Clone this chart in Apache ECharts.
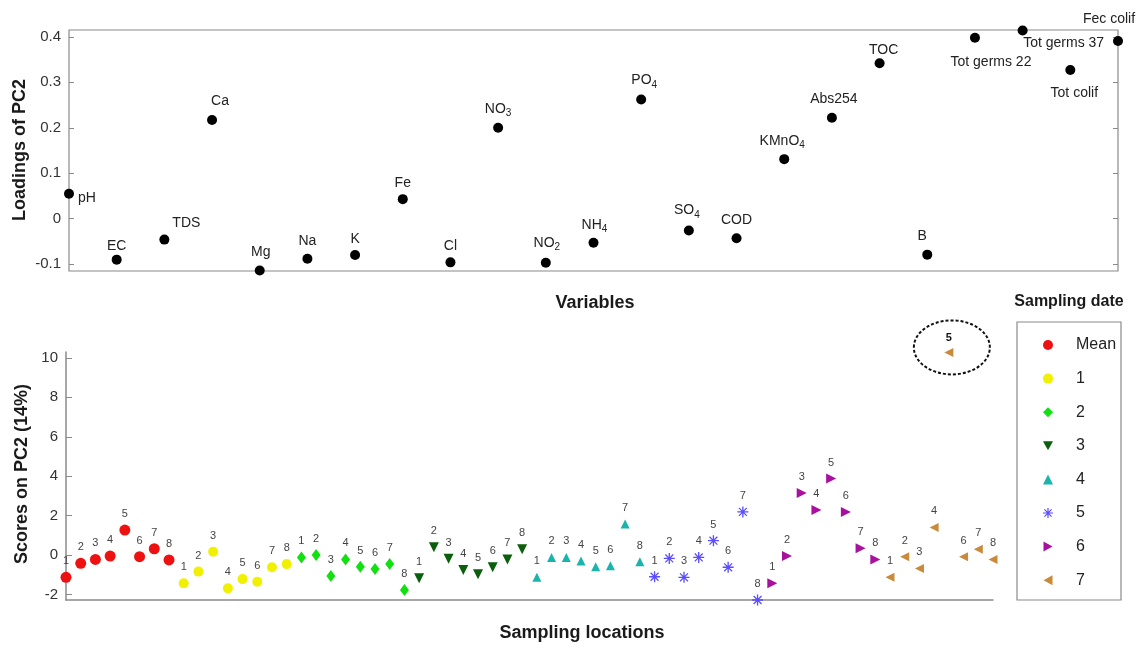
<!DOCTYPE html>
<html><head><meta charset="utf-8">
<script src="https://cdn.jsdelivr.net/npm/echarts@6/dist/echarts.min.js"></script>
<style>html,body{margin:0;padding:0;background:#fff}#c{width:1140px;height:648px}</style>
</head><body><div id="c"></div>
<script>
const FONT = '"Liberation Sans", Arial, sans-serif';

// ---------- data: loadings of PC2 ----------
const variableNames = ['pH','EC','TDS','Ca','Mg','Na','K','Fe','Cl','NO3','NO2','NH4','PO4','SO4','COD','KMnO4','Abs254','TOC','B','Tot germs 22','Tot germs 37','Tot colif','Fec colif'];
const loadingValues = [0.055,-0.090,-0.046,0.217,-0.114,-0.088,-0.080,0.043,-0.096,0.200,-0.097,-0.053,0.262,-0.026,-0.043,0.131,0.222,0.342,-0.079,0.398,0.414,0.327,0.391];
const loadingTicks = [-0.1,0,0.1,0.2,0.3,0.4];

// ---------- data: scores on PC2 ----------
const dateNames = ['Mean','1','2','3','4','5','6','7'];
const locationLabels = ['1','2','3','4','5','6','7','8'];
const scoresMean = [-1.13,-0.42,-0.22,-0.05,1.27,-0.08,0.32,-0.25];
const scoresD1 = [-1.43,-0.84,0.17,-1.69,-1.22,-1.35,-0.62,-0.46];
const scoresD2 = [-0.12,0.00,-1.06,-0.22,-0.59,-0.71,-0.46,-1.77];
const scoresD3 = [-1.18,0.39,-0.19,-0.76,-0.98,-0.62,-0.22,0.29];
const scoresD4 = [-1.13,-0.12,-0.12,-0.30,-0.59,-0.54,1.57,-0.34];
const scoresD5 = [-1.10,-0.17,-1.13,-0.12,0.73,-0.62,2.19,-2.28];
const scoresD6 = [-1.43,-0.05,3.15,2.28,3.88,2.19,0.34,-0.22];
const scoresD7 = [-1.13,-0.08,-0.68,1.40,10.28,-0.08,0.30,-0.22];
const scoreTicks = [-2,0,2,4,6,8,10];
const circledDate = 7, circledLocation = 5;

// ---------- styles ----------
const labelOffsets = {
  'pH':[18,4],'EC':[0,-13],'TDS':[22,-16],'Ca':[8,-19],'Mg':[1,-18],'Na':[0,-18],'K':[0,-16],
  'Fe':[0,-16],'Cl':[0,-16],'NO3':[0,-19],'NO2':[1,-20],'NH4':[1,-18],'PO4':[3,-19],'SO4':[-2,-20],
  'COD':[0,-18],'KMnO4':[-2,-18],'Abs254':[2,-19],'TOC':[4,-13],'B':[-5,-18],
  'Tot germs 22':[16,24],'Tot germs 37':[41,13],'Tot colif':[4,23],'Fec colif':[-9,-22]
};
const chemSub = ['NO3','NO2','NH4','PO4','SO4','KMnO4'];
const asterisk = 'path://M0,4.4H10V5.6H0Z M4.4,0H5.6V10H4.4Z M1,1.8L1.8,1L9,8.2L8.2,9Z M8.2,1L9,1.8L1.8,9L1,8.2Z';
const dateStyles = [
  {symbol:'circle', size:11, color:'#ee1111'},
  {symbol:'circle', size:10, color:'#f0f000'},
  {symbol:'diamond', size:[9,12], color:'#11e011'},
  {symbol:'path://M0,0L10,0L5,9Z', size:10, color:'#0b5e0b'},
  {symbol:'triangle', size:9, color:'#19b5ad'},
  {symbol:asterisk, size:11, color:'#5a4cff'},
  {symbol:'path://M0,0L9,5L0,10Z', size:10, color:'#a8109e'},
  {symbol:'path://M9,0L0,5L9,10Z', size:9, color:'#c98a3a'}
];
const allScores = [scoresMean,scoresD1,scoresD2,scoresD3,scoresD4,scoresD5,scoresD6,scoresD7];

const chart = echarts.init(document.getElementById('c'), null, {renderer:'canvas'});

const loadingSeries = {
  type:'scatter', xAxisIndex:0, yAxisIndex:0, symbol:'circle', symbolSize:10,
  itemStyle:{color:'#000', opacity:1}, silent:true,
  data: variableNames.map((n,i)=>({name:n, value:[i+1, loadingValues[i]],
    label:{offset: labelOffsets[n]}})),
  label:{show:true, position:'inside', align:'center', verticalAlign:'middle',
    formatter: p => {
      const n = p.data.name;
      if (chemSub.indexOf(n) >= 0) return '{n|' + n.slice(0,-1) + '}{s|' + n.slice(-1) + '}';
      return '{n|' + n + '}';
    },
    rich:{
      n:{fontFamily:FONT, fontSize:14, color:'#222'},
      s:{fontFamily:FONT, fontSize:10, color:'#222', padding:[9,0,0,0]}
    }
  }
};

const scoreSeries = allScores.map((arr,g)=>({
  name: dateNames[g], type:'scatter', xAxisIndex:1, yAxisIndex:2, silent:true, clip:false,
  symbol: dateStyles[g].symbol, symbolSize: dateStyles[g].size,
  itemStyle:{color: dateStyles[g].color, opacity:1},
  data: arr.map((v,i)=>{
    const d = {value:[g*8+i+1, v]};
    if (g===circledDate && i===circledLocation-1) d.label = {fontWeight:'bold', color:'#111', offset:[0,-14]};
    return d;
  }),
  label:{show:true, position:'inside', align:'center', verticalAlign:'middle', offset:[0,-16],
    fontFamily:FONT, fontSize:11, color:'#444',
    formatter: p => locationLabels[p.dataIndex]}
}));

const axisGrey = '#8a8a8a';
chart.setOption({
  animation:false,
  backgroundColor:'#fff',
  textStyle:{fontFamily:FONT},
  grid:[
    {left:69, top:30, width:1049, height:241, show:true, borderColor:axisGrey, borderWidth:1.2, backgroundColor:'#fff'},
    {left:66, top:352, width:927, height:248}
  ],
  xAxis:[
    {gridIndex:0, type:'value', min:1, max:23, axisLine:{show:false}, axisTick:{show:false}, axisLabel:{show:false}, splitLine:{show:false}},
    {gridIndex:1, type:'value', min:1, max:64, axisLine:{show:true, onZero:false, lineStyle:{color:axisGrey, width:1.5}}, axisTick:{show:false}, axisLabel:{show:false}, splitLine:{show:false}}
  ],
  yAxis:[
    {gridIndex:0, type:'value', min:-0.115, max:0.415, position:'left',
      axisLine:{show:false}, splitLine:{show:false},
      axisTick:{show:true, inside:true, length:5, lineStyle:{color:axisGrey}, customValues:loadingTicks},
      axisLabel:{customValues:loadingTicks, fontSize:15, color:'#333', margin:8, formatter:v=>String(v)}},
    {gridIndex:0, type:'value', min:-0.115, max:0.415, position:'right',
      axisLine:{show:false}, splitLine:{show:false},
      axisTick:{show:true, inside:true, length:5, lineStyle:{color:axisGrey}, customValues:loadingTicks},
      axisLabel:{show:false}},
    {gridIndex:1, type:'value', min:-2.28, max:10.3, position:'left',
      axisLine:{show:true, onZero:false, lineStyle:{color:axisGrey, width:1.5}}, splitLine:{show:false},
      axisTick:{show:true, inside:true, length:6, lineStyle:{color:axisGrey}, customValues:scoreTicks},
      axisLabel:{customValues:scoreTicks, fontSize:15, color:'#333', margin:8, formatter:v=>String(v)}}
  ],
  legend:{
    data: dateNames, orient:'vertical', left:1043, top:337, padding:0,
    itemWidth:10, itemHeight:10, itemGap:17.6, selectedMode:false,
    textStyle:{fontFamily:FONT, fontSize:16, color:'#222', padding:[0,0,0,18]}
  },
  graphic:[
    {type:'rect', id:'legendBox', shape:{x:1017, y:322, width:104, height:278}, style:{fill:'none', stroke:axisGrey, lineWidth:1.2}, z:-1},
    {type:'text', id:'t1', x:20, y:150, rotation:Math.PI/2, style:{text:'Loadings of PC2', font:'bold 18px ' + FONT, fill:'#1a1a1a', align:'center', verticalAlign:'middle'}},
    {type:'text', id:'t2', x:595, y:303, style:{text:'Variables', font:'bold 18px ' + FONT, fill:'#1a1a1a', align:'center', verticalAlign:'middle'}},
    {type:'text', id:'t3', x:22, y:474, rotation:Math.PI/2, style:{text:'Scores on PC2 (14%)', font:'bold 18px ' + FONT, fill:'#1a1a1a', align:'center', verticalAlign:'middle'}},
    {type:'text', id:'t4', x:582, y:633, style:{text:'Sampling locations', font:'bold 18px ' + FONT, fill:'#1a1a1a', align:'center', verticalAlign:'middle'}},
    {type:'text', id:'t5', x:1069, y:302, style:{text:'Sampling date', font:'bold 16px ' + FONT, fill:'#1a1a1a', align:'center', verticalAlign:'middle'}}
  ],
  series:[loadingSeries].concat(scoreSeries)
});

const cp = chart.convertToPixel({gridIndex:1}, [(circledDate)*8 + circledLocation, allScores[circledDate][circledLocation-1]]);
chart.setOption({graphic:[{type:'ellipse', id:'ring', shape:{cx:cp[0]+3, cy:cp[1]-5, rx:38, ry:27},
  style:{fill:'none', stroke:'#111', lineWidth:2, lineDash:[3,2]}}]});
</script>
</body></html>
